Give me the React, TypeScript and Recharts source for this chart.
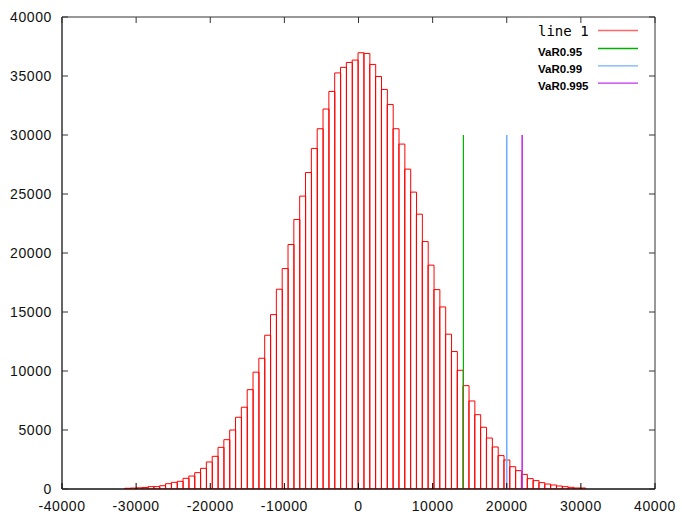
import { ComposedChart, Bar, XAxis, YAxis, ReferenceLine, ReferenceArea, Legend } from 'recharts';

const BIN_WIDTH = 787;
const FIRST_BIN = -31150;
const counts = [
  60, 80, 100, 130, 200, 200, 280, 450, 565, 650,
  905, 1100, 1385, 1750, 2290, 2770, 3530, 4180, 5000, 6080,
  6930, 8420, 9900, 11080, 13030, 14780, 16930, 18680, 20720, 22840,
  24820, 26820, 28860, 30530, 32200, 33690, 35260, 35730, 36150, 36350,
  36970, 36910, 35980, 34960, 33860, 32590, 30530, 29230, 27110, 25160,
  23290, 20970, 18970, 16900, 15430, 13120, 11650, 10060, 8760, 7460,
  6300, 5230, 4320, 3560, 2830, 2460, 1890, 1555, 1240, 880,
  710, 540, 420, 340, 254, 198, 141, 85, 85,
];

const xTicks = [-40000, -30000, -20000, -10000, 0, 10000, 20000, 30000, 40000];
const yTicks = [0, 5000, 10000, 15000, 20000, 25000, 30000, 35000, 40000];
const X_DOMAIN = [-40000, 40000];
const Y_DOMAIN = [0, 40000];

const varLabels = ['VaR0.95', 'VaR0.99', 'VaR0.995'];
const varValues = [14150, 20000, 22080];
const varColors = ['#00b000', '#70b0ff', '#c030f0'];
const VAR_TOP = 30000;

const data = counts.map((count, i) => ({ x: FIRST_BIN + i * BIN_WIDTH, count }));

const FONT = 'Liberation Sans, Arial, sans-serif';
const TICK = 6;

const BottomTick = ({ x, y, payload }: any) => (
  <g>
    <line x1={x} y1={y} x2={x} y2={y - TICK} stroke="#000" />
    <text x={x} y={y + 22} textAnchor="middle" fontFamily={FONT} fontSize={14} letterSpacing={0.6} fill="#111">
      {payload.value}
    </text>
  </g>
);

const TopTick = ({ x, y }: any) => <line x1={x} y1={y} x2={x} y2={y + TICK} stroke="#333" />;

const LeftTick = ({ x, y, payload }: any) => (
  <g>
    <line x1={x} y1={y} x2={x + TICK} y2={y} stroke="#333" />
    <text x={x - 10} y={y + 5} textAnchor="end" fontFamily={FONT} fontSize={14} letterSpacing={0.6} fill="#111">
      {payload.value}
    </text>
  </g>
);

const RightTick = ({ x, y }: any) => <line x1={x} y1={y} x2={x - TICK} y2={y} stroke="#333" />;

const renderLegend = () => (
  <svg width={682} height={100} style={{ display: 'block' }}>
    <text x={538} y={36} fontFamily="DejaVu Sans Mono, monospace" fontSize={14} fill="#000">
      line 1
    </text>
    <line x1={598} x2={638} y1={30.5} y2={30.5} stroke="#ff6868" strokeWidth={1.5} />
    {varLabels.map((label, i) => (
      <g key={label}>
        <text x={538} y={55.5 + i * 17.3} fontFamily={FONT} fontWeight="bold" fontSize={11.5} fill="#000">
          {label}
        </text>
        <line x1={598} x2={638} y1={48.5 + i * 17.3} y2={48.5 + i * 17.3} stroke={varColors[i]} strokeWidth={1.3} />
      </g>
    ))}
  </svg>
);

export default function App() {
  return (
    <div style={{ position: 'absolute', left: 0, top: 0, width: 682, height: 516, background: '#fff' }}>
      <ComposedChart
        width={682}
        height={516}
        data={data}
        margin={{ top: 16, right: 26, bottom: 0, left: 0 }}
        barCategoryGap={0}
        barGap={0}
      >
        <XAxis
          dataKey="x"
          type="number"
          domain={X_DOMAIN}
          ticks={xTicks}
          allowDataOverflow
          height={27}
          tickSize={0}
          tickMargin={0}
          tickLine={false}
          tick={<BottomTick />}
          stroke="#000"
        />
        <XAxis
          xAxisId="top"
          dataKey="x"
          orientation="top"
          type="number"
          domain={X_DOMAIN}
          ticks={xTicks}
          allowDataOverflow
          height={1}
          tickSize={0}
          tickMargin={0}
          tickLine={false}
          axisLine={false}
          tick={<TopTick />}
        />
        <YAxis
          type="number"
          domain={Y_DOMAIN}
          ticks={yTicks}
          allowDataOverflow
          width={62}
          tickSize={0}
          tickMargin={0}
          tickLine={false}
          tick={<LeftTick />}
          stroke="#333"
        />
        <YAxis
          yAxisId="right"
          orientation="right"
          type="number"
          domain={Y_DOMAIN}
          ticks={yTicks}
          allowDataOverflow
          width={1}
          tickSize={0}
          tickMargin={0}
          tickLine={false}
          axisLine={false}
          tick={<RightTick />}
        />
        <ReferenceArea
          x1={X_DOMAIN[0]}
          x2={X_DOMAIN[1]}
          y1={Y_DOMAIN[0]}
          y2={Y_DOMAIN[1]}
          fill="none"
          fillOpacity={0}
          stroke="#333"
          strokeOpacity={1}
        />
        <Bar dataKey="count" fill="none" stroke="#ff0000" strokeWidth={1} isAnimationActive={false} />
        <Bar
          dataKey="count"
          xAxisId="top"
          yAxisId="right"
          fill="none"
          stroke="none"
          isAnimationActive={false}
          legendType="none"
        />
        {varValues.map((v, i) => (
          <ReferenceLine
            key={varLabels[i]}
            segment={[{ x: v, y: 0 }, { x: v, y: VAR_TOP }]}
            stroke={varColors[i]}
            strokeWidth={i === 0 ? 1.2 : 1.6}
          />
        ))}
        <Legend
          layout="vertical"
          align="center"
          verticalAlign="middle"
          content={renderLegend}
          wrapperStyle={{ top: 0, left: 0, width: 682, height: 100 }}
        />
      </ComposedChart>
    </div>
  );
}
